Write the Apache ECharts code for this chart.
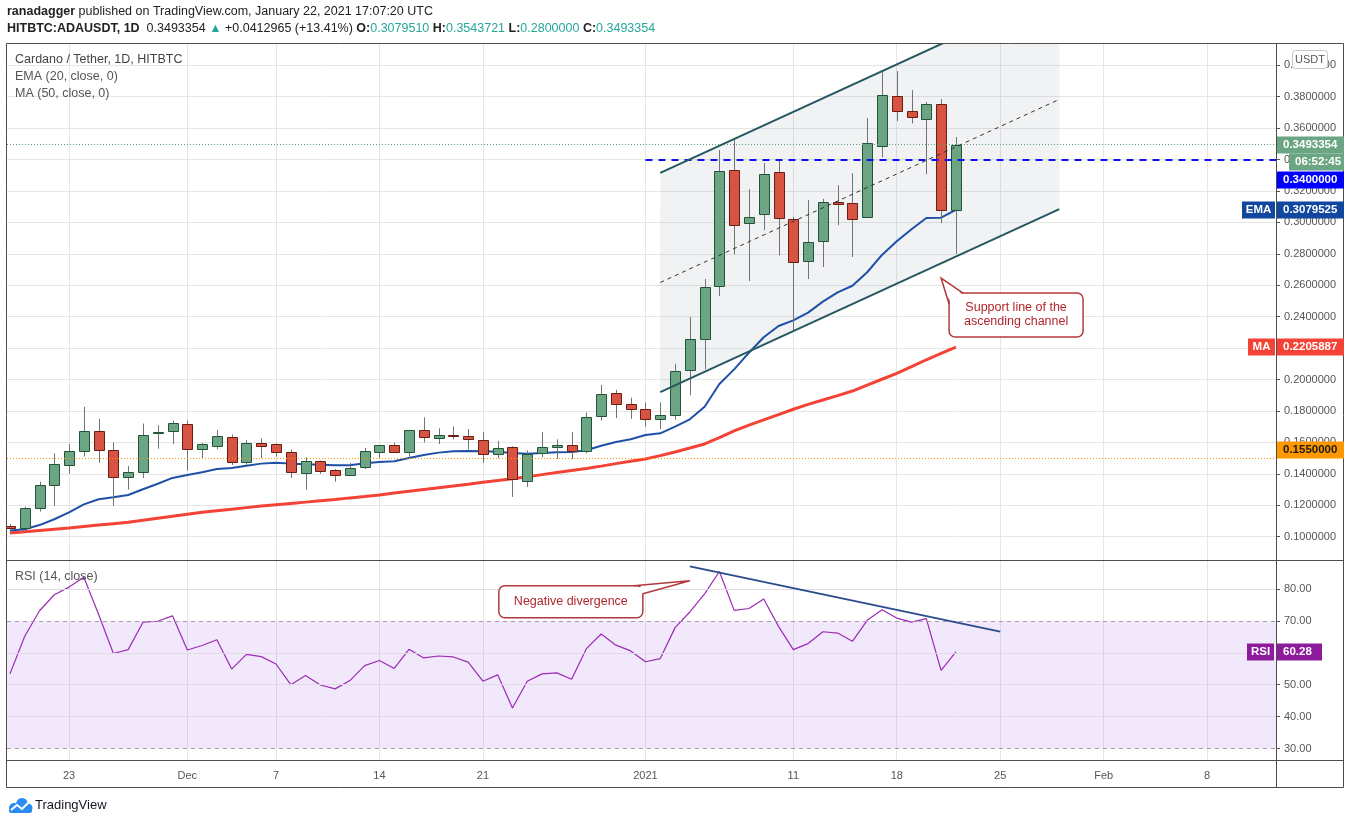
<!DOCTYPE html>
<html>
<head>
<meta charset="utf-8">
<title>Cardano / Tether, 1D, HITBTC</title>
<script src="https://cdn.jsdelivr.net/npm/echarts@6/dist/echarts.min.js"></script>
<style>
html, body { margin: 0; padding: 0; background: #fff; }
#chart { width: 1351px; height: 824px; }
</style>
</head>
<body>
<div id="chart"></div>
<script>
// daily candles from 2020-11-19 to 2021-01-22
var startDate = "2020-11-19";

var openPrices = [0.1068, 0.1055, 0.1180, 0.1330, 0.1455, 0.1545, 0.1670, 0.1550, 0.1380, 0.1410,
    0.1663, 0.1670, 0.1717, 0.1557, 0.1580, 0.1635, 0.1475, 0.1595, 0.1590, 0.1540,
    0.1405, 0.1480, 0.1425, 0.1390, 0.1445, 0.1540, 0.1585, 0.1540, 0.1680, 0.1628,
    0.1649, 0.1640, 0.1615, 0.1525, 0.1570, 0.1355, 0.1530, 0.1570, 0.1585, 0.1545,
    0.1767, 0.1915, 0.1845, 0.1810, 0.1749, 0.1773, 0.2060, 0.2257, 0.2595, 0.3333,
    0.2995, 0.3052, 0.3320, 0.3020, 0.2755, 0.2880, 0.3128, 0.3122, 0.3035, 0.3485,
    0.3804, 0.3709, 0.3658, 0.3752, 0.3079510];
var closePrices = [0.1055, 0.1180, 0.1330, 0.1460, 0.1545, 0.1670, 0.1550, 0.1380, 0.1410, 0.1650,
    0.1667, 0.1725, 0.1557, 0.1590, 0.1640, 0.1475, 0.1595, 0.1580, 0.1540, 0.1410,
    0.1480, 0.1417, 0.1390, 0.1440, 0.1545, 0.1585, 0.1540, 0.1680, 0.1635, 0.1647,
    0.1645, 0.1620, 0.1525, 0.1565, 0.1365, 0.1525, 0.1570, 0.1585, 0.1545, 0.1760,
    0.1908, 0.1845, 0.1810, 0.1750, 0.1773, 0.2055, 0.2257, 0.2589, 0.3327, 0.2982,
    0.3035, 0.3310, 0.3025, 0.2748, 0.2875, 0.3128, 0.3118, 0.3020, 0.3505, 0.3810,
    0.3709, 0.3670, 0.3752, 0.3078, 0.3493354];
var lowPrices = [0.1045, 0.1050, 0.1160, 0.1195, 0.1400, 0.1510, 0.1470, 0.1195, 0.1300, 0.1374,
    0.1560, 0.1590, 0.1420, 0.1500, 0.1557, 0.1457, 0.1457, 0.1500, 0.1510, 0.1374,
    0.1300, 0.1400, 0.1350, 0.1390, 0.1430, 0.1494, 0.1535, 0.1494, 0.1600, 0.1590,
    0.1620, 0.1555, 0.1470, 0.1500, 0.1253, 0.1316, 0.1505, 0.1494, 0.1494, 0.1530,
    0.1740, 0.1755, 0.1750, 0.1700, 0.1685, 0.1745, 0.1900, 0.2066, 0.2532, 0.2797,
    0.2627, 0.2950, 0.2790, 0.2310, 0.2640, 0.2716, 0.2983, 0.2780, 0.3030, 0.3415,
    0.3645, 0.3630, 0.3307, 0.2995, 0.2800000];
var highPrices = [0.1080, 0.1190, 0.1350, 0.1530, 0.1590, 0.1826, 0.1750, 0.1600, 0.1450, 0.1720,
    0.1710, 0.1737, 0.1740, 0.1597, 0.1680, 0.1650, 0.1615, 0.1625, 0.1595, 0.1555,
    0.1505, 0.1485, 0.1430, 0.1470, 0.1565, 0.1585, 0.1600, 0.1680, 0.1760, 0.1690,
    0.1700, 0.1685, 0.1667, 0.1610, 0.1575, 0.1550, 0.1667, 0.1620, 0.1667, 0.1790,
    0.1966, 0.1935, 0.1885, 0.1855, 0.1855, 0.2100, 0.2398, 0.2640, 0.3460, 0.3530,
    0.3212, 0.3377, 0.3397, 0.3035, 0.3142, 0.3150, 0.3237, 0.3314, 0.3664, 0.3963,
    0.3963, 0.3842, 0.3766, 0.3785, 0.3543721];

var ema20 = [0.1040, 0.1047, 0.1074, 0.1111, 0.1155, 0.1206, 0.1238, 0.1251, 0.1265, 0.1302,
    0.1337, 0.1374, 0.1393, 0.1410, 0.1431, 0.1437, 0.1452, 0.1465, 0.1471, 0.1465,
    0.1461, 0.1458, 0.1454, 0.1454, 0.1467, 0.1475, 0.1480, 0.1501, 0.1520, 0.1535,
    0.1543, 0.1545, 0.1543, 0.1541, 0.1533, 0.1528, 0.1533, 0.1537, 0.1539, 0.1550,
    0.1579, 0.1603, 0.1620, 0.1647, 0.1658, 0.1700, 0.1747, 0.1827, 0.1972, 0.2065,
    0.2171, 0.2269, 0.2341, 0.2377, 0.2426, 0.2496, 0.2555, 0.2597, 0.2683, 0.2793,
    0.2880, 0.2956, 0.3028, 0.3030, 0.3079525];
var ma50 = [0.1024, 0.1032, 0.1040, 0.1048, 0.1056, 0.1065, 0.1074, 0.1083, 0.1092, 0.1104,
    0.1117, 0.1130, 0.1143, 0.1155, 0.1165, 0.1175, 0.1185, 0.1195, 0.1204, 0.1212,
    0.1220, 0.1229, 0.1237, 0.1247, 0.1256, 0.1266, 0.1278, 0.1289, 0.1301, 0.1312,
    0.1323, 0.1334, 0.1346, 0.1357, 0.1369, 0.1382, 0.1395, 0.1408, 0.1421, 0.1434,
    0.1449, 0.1465, 0.1480, 0.1495, 0.1516, 0.1539, 0.1564, 0.1590, 0.1630, 0.1673,
    0.1710, 0.1743, 0.1777, 0.1811, 0.1842, 0.1870, 0.1898, 0.1927, 0.1965, 0.2002,
    0.2040, 0.2082, 0.2126, 0.2166, 0.2205887];
var rsi14 = [53.4, 65.2, 73.2, 78.2, 80.6, 83.7, 72.0, 59.8, 61.0, 69.6,
    69.9, 71.6, 60.9, 62.3, 64.1, 54.9, 59.5, 58.8, 56.5, 50.0,
    52.9, 49.9, 48.7, 51.3, 56.0, 57.6, 55.1, 61.1, 58.4, 59.0,
    58.7, 57.1, 51.1, 53.1, 42.7, 51.1, 53.4, 53.7, 51.7, 61.3,
    65.9, 62.4, 60.6, 57.2, 58.2, 67.9, 72.8, 78.5, 85.5, 73.3,
    73.9, 76.9, 68.3, 61.0, 62.9, 66.6, 66.2, 63.6, 70.2, 73.5,
    70.9, 69.6, 70.7, 54.5, 60.28];

var tickDates = ["2020-11-23", "2020-12-01", "2020-12-07", "2020-12-14", "2020-12-21", "2021-01-01",
    "2021-01-11", "2021-01-18", "2021-01-25", "2021-02-01", "2021-02-08"];
var tickLabels = ["23", "Dec", "7", "14", "21", "2021", "11", "18", "25", "Feb", "8"];
var priceTicks = [0.10, 0.12, 0.14, 0.16, 0.18, 0.20, 0.22, 0.24, 0.26, 0.28, 0.30, 0.32, 0.34, 0.36, 0.38, 0.40];
var rsiTicks = [30, 40, 50, 60, 70, 80];
var rsiGridLines = [40, 50, 60, 80];
var rsiBand = [30, 70];

// drawings on the chart
var resistanceLevel = 0.34;
var resistanceFrom = "2021-01-01";
var supportLevel = 0.155;
var lastClose = 0.3493354;
var channelDates = ["2021-01-02", "2021-01-29"];
var channelUpper = [0.3315, 0.4480];
var channelMiddle = [0.2618, 0.3783];
var channelLower = [0.1920, 0.3085];
var rsiTrendDates = ["2021-01-04", "2021-01-25"];
var rsiTrendValues = [87.1, 66.65];
var supportNoteAt = ["2021-01-21", 0.2646];
var divergenceNoteAt = ["2021-01-04", 82.6];

var FONT = "'Liberation Sans', Arial, sans-serif";
var xMin = -0.2, xMax = 85.66;

function dayIndex(d) {
    return Math.round((Date.parse(d) - Date.parse(startDate)) / 86400000)
}

var tickIdx = tickDates.map(dayIndex);

function pairs(arr) {
    return arr.map(function(v, i) {
        return [i, v]
    })
}

var candleData = openPrices.map(function(o, i) {
    return [i, o, closePrices[i], lowPrices[i], highPrices[i]]
});

function renderCandle(params, api) {
    var x = api.value(0), o = api.value(1), c = api.value(2), l = api.value(3), h = api.value(4);
    var pO = api.coord([x, o]), pC = api.coord([x, c]), pL = api.coord([x, l]), pH = api.coord([x, h]);
    var w = Math.round(api.size([1, 0])[0] * 0.68);
    var cx = Math.round(pO[0]) + 0.5;
    var up = c >= o;
    var top = Math.round(Math.min(pO[1], pC[1])) + 0.5;
    var bot = Math.round(Math.max(pO[1], pC[1])) + 0.5;
    return {
        type: "group",
        children: [{
            type: "line",
            shape: { x1: cx, y1: pH[1], x2: cx, y2: pL[1] },
            style: { stroke: "#737375", lineWidth: 1 }
        }, {
            type: "rect",
            shape: { x: cx - w / 2, y: top, width: w, height: Math.max(bot - top, 1) },
            style: { fill: up ? "#6ba583" : "#d75442", stroke: up ? "#225437" : "#6b1d14", lineWidth: 1 }
        }]
    }
}

function renderChannel(params, api) {
    var a = dayIndex(channelDates[0]), b = dayIndex(channelDates[1]);
    var pts = [[a, channelLower[0]], [a, channelUpper[0]], [b, channelUpper[1]], [b, channelLower[1]]].map(function(p) {
        return api.coord(p)
    });
    return {
        type: "polygon",
        shape: { points: pts },
        style: { fill: "rgba(110,125,150,0.10)" }
    }
}

function seg(dates, vals) {
    return [[dayIndex(dates[0]), vals[0]], [dayIndex(dates[1]), vals[1]]]
}

var gridStyle = { color: "#e6e6e6", width: 1 };

var option = {
    animation: false,
    backgroundColor: "#ffffff",
    textStyle: { fontFamily: FONT },
    grid: [
        { left: 7, right: 75, top: 44, height: 516, outerBoundsMode: "none" },
        { left: 7, right: 75, top: 560, height: 200, outerBoundsMode: "none" }
    ],
    xAxis: [{
        type: "value", gridIndex: 0, min: xMin, max: xMax,
        axisLine: { show: false, onZero: false },
        axisTick: { show: false, customValues: tickIdx },
        axisLabel: { show: false, customValues: tickIdx },
        splitLine: { show: true, lineStyle: gridStyle }
    }, {
        type: "value", gridIndex: 1, min: xMin, max: xMax,
        axisLine: { show: false, onZero: false },
        axisTick: { show: false, customValues: tickIdx },
        axisLabel: {
            customValues: tickIdx, color: "#555", fontSize: 11, margin: 10,
            formatter: function(v) {
                var k = tickIdx.indexOf(Math.round(v));
                return k >= 0 ? tickLabels[k] : ""
            }
        },
        splitLine: { show: true, lineStyle: gridStyle }
    }],
    yAxis: [{
        type: "value", gridIndex: 0, position: "right", min: 0.08517, max: 0.41354,
        axisLine: { show: true, onZero: false, lineStyle: { color: "#555" } },
        axisTick: { show: true, inside: false, length: 4, customValues: priceTicks, lineStyle: { color: "#555" } },
        axisLabel: {
            customValues: priceTicks, color: "#555", fontSize: 11, margin: 8,
            formatter: function(v) { return v.toFixed(7) }
        },
        splitLine: { show: true, lineStyle: gridStyle }
    }, {
        type: "value", gridIndex: 1, position: "right", min: 26.4, max: 89.1,
        axisLine: { show: true, onZero: false, lineStyle: { color: "#555" } },
        axisTick: { show: true, inside: false, length: 4, customValues: rsiTicks, lineStyle: { color: "#555" } },
        axisLabel: {
            customValues: rsiTicks, color: "#555", fontSize: 11, margin: 8,
            formatter: function(v) { return v.toFixed(2) }
        },
        splitLine: { show: false }
    }],
    series: [{
        name: "channel",
        type: "custom",
        xAxisIndex: 0, yAxisIndex: 0,
        clip: true,
        z: 1,
        silent: true,
        data: [0],
        renderItem: renderChannel
    }, {
        name: "MA (50, close, 0)",
        type: "line",
        xAxisIndex: 0, yAxisIndex: 0,
        data: pairs(ma50),
        showSymbol: false,
        lineStyle: { color: "#f44336", width: 3 },
        z: 3
    }, {
        name: "EMA (20, close, 0)",
        type: "line",
        xAxisIndex: 0, yAxisIndex: 0,
        data: pairs(ema20),
        showSymbol: false,
        lineStyle: { color: "#1e50a8", width: 2 },
        z: 3
    }, {
        name: "ADAUSDT",
        type: "custom",
        xAxisIndex: 0, yAxisIndex: 0,
        clip: true,
        z: 4,
        data: candleData,
        renderItem: renderCandle,
        markLine: {
            silent: true,
            symbol: "none",
            label: { show: false },
            data: [
                { yAxis: supportLevel, lineStyle: { color: "#ff9800", type: [1, 2], width: 1 } },
                { yAxis: lastClose, lineStyle: { color: "#5f9a7a", type: [1, 2], width: 1 } },
                [{ coord: [dayIndex(resistanceFrom), resistanceLevel], lineStyle: { color: "#1010ee", type: [7, 6], width: 2 } },
                 { coord: [xMax, resistanceLevel] }]
            ]
        }
    }, {
        name: "upper",
        type: "line",
        xAxisIndex: 0, yAxisIndex: 0,
        data: seg(channelDates, channelUpper),
        showSymbol: false,
        lineStyle: { color: "#24585f", width: 2 },
        z: 6
    }, {
        name: "middle",
        type: "line",
        xAxisIndex: 0, yAxisIndex: 0,
        data: seg(channelDates, channelMiddle),
        showSymbol: false,
        lineStyle: { color: "#333", width: 1, type: [4, 4] },
        z: 6
    }, {
        name: "lower",
        type: "line",
        xAxisIndex: 0, yAxisIndex: 0,
        data: seg(channelDates, channelLower),
        showSymbol: false,
        lineStyle: { color: "#24585f", width: 2 },
        z: 6
    }, {
        name: "RSI (14, close)",
        type: "line",
        xAxisIndex: 1, yAxisIndex: 1,
        data: pairs(rsi14),
        showSymbol: false,
        lineStyle: { color: "#9c2ab5", width: 1.2 },
        z: 4,
        markArea: {
            silent: true,
            itemStyle: { color: "rgba(155,80,230,0.13)" },
            data: [[{ yAxis: rsiBand[0] }, { yAxis: rsiBand[1] }]]
        },
        markLine: {
            silent: true,
            symbol: "none",
            label: { show: false },
            data: rsiGridLines.map(function(v) {
                return { yAxis: v, lineStyle: { color: "#e2dbe6", type: "solid", width: 1 } }
            }).concat(rsiBand.map(function(v) {
                return { yAxis: v, lineStyle: { color: "#a49aa8", type: [4, 4], width: 1 } }
            }))
        }
    }, {
        name: "rsiTrend",
        type: "line",
        xAxisIndex: 1, yAxisIndex: 1,
        data: seg(rsiTrendDates, rsiTrendValues),
        showSymbol: false,
        lineStyle: { color: "#2b4c8c", width: 2 },
        z: 6
    }]
};

var myChart = echarts.init(document.getElementById("chart"));
myChart.setOption(option);

// overlay: frame, header, legends, price tags, callouts
function px(grid, p) {
    return myChart.convertToPixel({ gridIndex: grid }, p)
}

function tag(y, text, bg, fg, x, w) {
    return [{
        type: "rect", z: 60, shape: { x: x, y: Math.round(y) - 8.5, width: w, height: 17 },
        style: { fill: bg }
    }, {
        type: "text", z: 61, x: x + 6, y: Math.round(y),
        style: { text: text, fill: fg, font: "bold 11.5px " + FONT, verticalAlign: "middle", align: "left" }
    }]
}

function sideTag(y, text, bg, x, w) {
    return [{
        type: "rect", z: 60, shape: { x: x, y: Math.round(y) - 8.5, width: w, height: 17 },
        style: { fill: bg }
    }, {
        type: "text", z: 61, x: x + w / 2, y: Math.round(y),
        style: { text: text, fill: "#fff", font: "bold 11.5px " + FONT, verticalAlign: "middle", align: "center" }
    }]
}

function callout(tip, L, T, R, B, b1, b2, b1In, b2In, lines) {
    var red = "#b23a3e";
    return [{
        type: "rect", z: 70, shape: { x: L, y: T, width: R - L, height: B - T, r: 6 },
        style: { fill: "#fff", stroke: red, lineWidth: 1.5 }
    }, {
        type: "polygon", z: 71, shape: { points: [b1In, tip, b2In] },
        style: { fill: "#fff" }
    }, {
        type: "polyline", z: 72, shape: { points: [b1, tip, b2] },
        style: { stroke: red, lineWidth: 1.5, fill: null }
    }, {
        type: "text", z: 73, x: (L + R) / 2, y: (T + B) / 2,
        style: { text: lines, fill: "#b0262b", font: "12.5px " + FONT, align: "center", verticalAlign: "middle", lineHeight: 14 }
    }]
}

var pTop = 44, pBottom = 760, pLeft = 7, axisX = 1276, fRight = 1343, fBottom = 787;
var g = [];

// frame
g.push({ type: "rect", z: 50, shape: { x: pLeft - 0.5, y: pTop - 0.5, width: fRight - pLeft + 1, height: fBottom - pTop + 1 }, style: { fill: null, stroke: "#4d4d4d", lineWidth: 1 } });
g.push({ type: "line", z: 50, shape: { x1: axisX + 0.5, y1: pTop, x2: axisX + 0.5, y2: fBottom }, style: { stroke: "#4d4d4d", lineWidth: 1 } });
g.push({ type: "line", z: 50, shape: { x1: pLeft, y1: 560.5, x2: fRight, y2: 560.5 }, style: { stroke: "#4d4d4d", lineWidth: 1 } });
g.push({ type: "line", z: 50, shape: { x1: pLeft, y1: pBottom + 0.5, x2: fRight, y2: pBottom + 0.5 }, style: { stroke: "#4d4d4d", lineWidth: 1 } });

// header
g.push({
    type: "text", x: 7, y: 12, z: 50,
    style: {
        text: "{b|ranadagger} published on TradingView.com, January 22, 2021 17:07:20 UTC",
        font: "12.5px " + FONT, fill: "#222", verticalAlign: "middle",
        rich: { b: { fontWeight: "bold", fontSize: 12.5, fill: "#222" } }
    }
});
g.push({
    type: "text", x: 7, y: 29, z: 50,
    style: {
        text: "{b|HITBTC:ADAUSDT, 1D}  0.3493354 {g|▲} +0.0412965 (+13.41%) {b|O:}{g|0.3079510} {b|H:}{g|0.3543721} {b|L:}{g|0.2800000} {b|C:}{g|0.3493354}",
        font: "12.5px " + FONT, fill: "#222", verticalAlign: "middle",
        rich: {
            b: { fontWeight: "bold", fontSize: 12.5, fill: "#222" },
            g: { fontSize: 12.5, fill: "#26a69a" }
        }
    }
});

// pane legends
[["Cardano / Tether, 1D, HITBTC", 60, "#444"], ["EMA (20, close, 0)", 77, "#555"], ["MA (50, close, 0)", 94, "#555"], ["RSI (14, close)", 577, "#555"]].forEach(function(t) {
    g.push({ type: "text", x: 15, y: t[1], z: 50, style: { text: t[0], font: "12.5px " + FONT, fill: t[2], verticalAlign: "middle" } });
});

// currency box
g.push({ type: "rect", z: 62, shape: { x: 1292.5, y: 50.5, width: 35, height: 18, r: 3 }, style: { fill: "#fff", stroke: "#c8c8c8", lineWidth: 1 } });
g.push({ type: "text", x: 1310, y: 60, z: 63, style: { text: "USDT", font: "11px " + FONT, fill: "#555", align: "center", verticalAlign: "middle" } });

// price tags
var yClose = px(0, [0, lastClose])[1];
var yEma = px(0, [0, ema20[ema20.length - 1]])[1];
var yMa = px(0, [0, ma50[ma50.length - 1]])[1];
var ySup = px(0, [0, supportLevel])[1];
var yRsi = px(1, [0, rsi14[rsi14.length - 1]])[1];
g = g.concat(
    tag(yClose, lastClose.toFixed(7), "#6ba583", "#fff", 1277, 67),
    tag(yClose + 17.5, "06:52:45", "#6ba583", "#fff", 1289, 55),
    tag(yClose + 35, resistanceLevel.toFixed(7), "#0000ff", "#fff", 1277, 67),
    sideTag(yEma, "EMA", "#11479f", 1242, 33),
    tag(yEma, ema20[ema20.length - 1].toFixed(7), "#11479f", "#fff", 1277, 67),
    sideTag(yMa, "MA", "#f44336", 1248, 27),
    tag(yMa, ma50[ma50.length - 1].toFixed(7), "#f44336", "#fff", 1277, 67),
    tag(ySup, supportLevel.toFixed(7), "#ff9800", "#1a1a1a", 1277, 67),
    sideTag(yRsi, "RSI", "#8e1a9c", 1247, 27),
    tag(yRsi, rsi14[rsi14.length - 1].toFixed(2), "#8e1a9c", "#fff", 1277, 45)
);

// callouts
var a = px(0, [dayIndex(supportNoteAt[0]), supportNoteAt[1]]);
var L = a[0] + 8, T = a[1] + 15;
g = g.concat(callout(a, L, T, L + 134, T + 44,
    [L + 14, T], [L, T + 11], [L + 14, T + 2], [L + 2, T + 11],
    "Support line of the\nascending channel"));
var b = px(1, [dayIndex(divergenceNoteAt[0]), divergenceNoteAt[1]]);
var R2 = b[0] - 47, T2 = b[1] + 5;
g = g.concat(callout(b, R2 - 144, T2, R2, T2 + 32,
    [R2 - 9, T2], [R2, T2 + 8], [R2 - 9, T2 + 2], [R2 - 2, T2 + 8],
    "Negative divergence"));

// TradingView mark
var blue = "#2a8cf0";
g.push({ type: "circle", z: 50, shape: { cx: 14, cy: 808, r: 5 }, style: { fill: blue } });
g.push({ type: "circle", z: 50, shape: { cx: 22, cy: 804, r: 6 }, style: { fill: blue } });
g.push({ type: "circle", z: 50, shape: { cx: 28, cy: 808, r: 4.5 }, style: { fill: blue } });
g.push({ type: "rect", z: 50, shape: { x: 9, y: 807, width: 23, height: 6, r: 2 }, style: { fill: blue } });
g.push({ type: "polyline", z: 51, shape: { points: [[11, 810], [17, 805], [22, 809], [29, 802]] }, style: { stroke: "#fff", lineWidth: 2, fill: null } });
g.push({ type: "text", x: 35, y: 805, z: 50, style: { text: "TradingView", font: "13px " + FONT, fill: "#131722", verticalAlign: "middle" } });

myChart.setOption({ graphic: g });
</script>
</body>
</html>
